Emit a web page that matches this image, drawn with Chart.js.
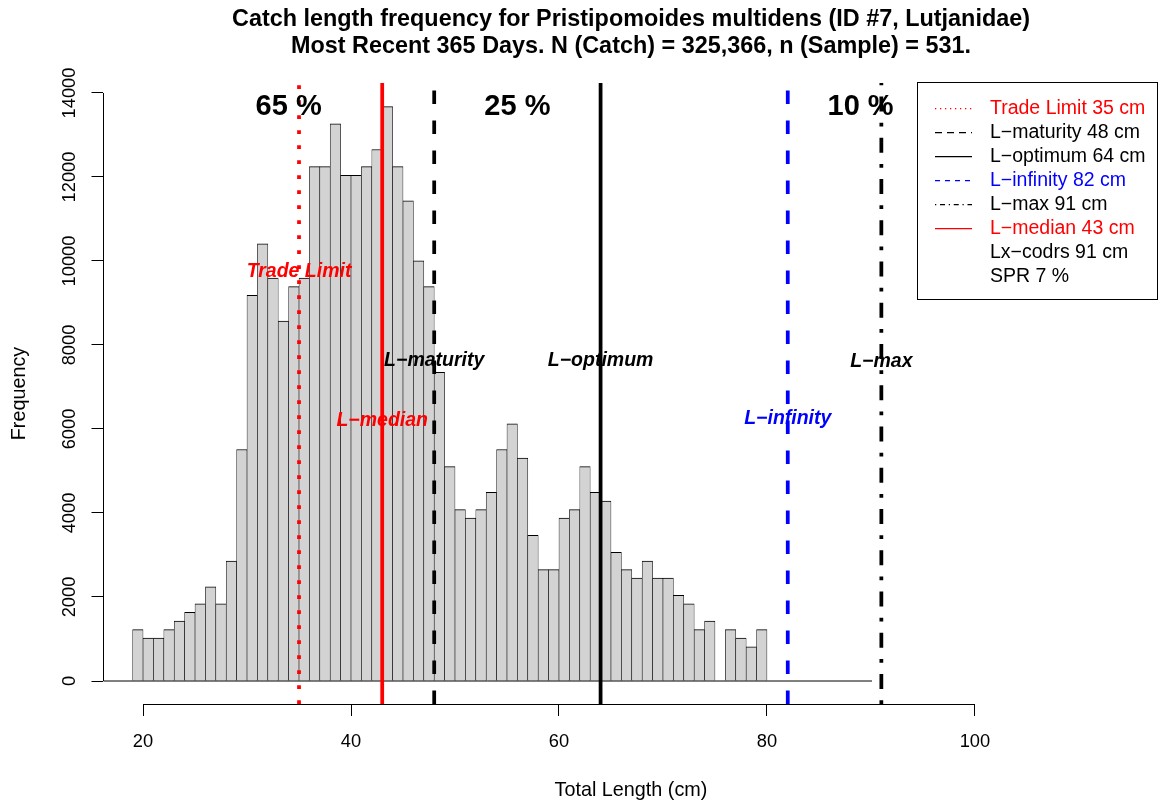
<!DOCTYPE html>
<html><head><meta charset="utf-8">
<script src="https://cdn.jsdelivr.net/npm/chart.js@4.4.1/dist/chart.umd.min.js"></script>
<style>html,body{margin:0;padding:0;background:#fff;}#wrap{width:1163px;height:805px;position:relative;}</style>
</head><body><div id="wrap"><canvas id="c" width="1163" height="805"></canvas></div>
<script>
// ---- data ----
const binStarts = [19,20,21,22,23,24,25,26,27,28,29,30,31,32,33,34,35,36,37,38,39,40,41,42,43,44,45,46,47,48,49,50,51,52,53,54,55,56,57,58,59,60,61,62,63,64,65,66,67,68,69,70,71,72,73,74,75,76,77,78,79];
const frequencies = [1225,1021,1021,1225,1429,1633,1837,2245,1837,2857,5511,9185,10409,9593,8572,9389,9593,12246,12246,13267,12042,12042,12246,12654,13675,12246,11430,10001,9389,7348,5103,4082,3878,4082,4490,5511,6123,5307,3470,2653,2653,3878,4082,5103,4490,4286,3062,2653,2449,2857,2449,2449,2041,1837,1225,1429,0,1225,1021,816,1225];
const refNames = ['Trade Limit','L\u2212maturity','L\u2212optimum','L\u2212infinity','L\u2212max','L\u2212median'];
const refValues = [35,48,64,82,91,43];
const refColors = ['#FF0000','#000000','#000000','#0000FF','#000000','#FF0000'];
const refDash = [[3.75,11.25],[13.5,16.5],[],[13.5,16.5],[3.75,11.25,15,11.25],[]];
const refLabelY = [9740,7630,7630,6240,7600,6210];
const pctLabels = ['65 %','25 %','10 %'];
const pctX = [34,56,89];
const pctY = [13675,13675,13675];
const legendTexts = ['Trade Limit 35 cm','L\u2212maturity 48 cm','L\u2212optimum 64 cm','L\u2212infinity 82 cm','L\u2212max 91 cm','L\u2212median 43 cm','Lx\u2212codrs 91 cm','SPR 7 %'];
const legendColors = ['#FF0000','#000000','#000000','#0000FF','#000000','#FF0000','#000000','#000000'];
const legendDash = [[1.25,3.75],[7,5],[],[5,5],[1.25,3.75,5,3.75],[],null,null];
const xTicks = [20,40,60,80,100];
const yTicks = [0,2000,4000,6000,8000,10000,12000,14000];
const baselineX = [16.2,90.1];
const titleLines = ['Catch length frequency for Pristipomoides multidens (ID #7, Lutjanidae)','Most Recent 365 Days. N (Catch) = 325,366, n (Sample) = 531.'];

const X_MIN = 16.15, X_MAX = 117.7, Y_MIN = -547.6, Y_MAX = 14237.6;
const FAM = "'Liberation Sans', Arial, Helvetica, sans-serif";

const datasets = [];
datasets.push({
  type: 'bar', label: 'Frequency', order: 5,
  data: binStarts.map((b, i) => ({x: b + 0.5, y: frequencies[i]})),
  backgroundColor: '#D3D3D3', borderColor: '#000000',
  borderWidth: {top: 1, left: 0.6, right: 0.6, bottom: 0}, borderSkipped: false,
  barPercentage: 1, categoryPercentage: 1
});
datasets.push({
  type: 'line', label: 'baseline', order: 4, clip: false,
  data: baselineX.map(x => ({x: x, y: 0})),
  borderColor: '#000', borderWidth: 1, pointRadius: 0
});
refValues.forEach((v, i) => {
  datasets.push({
    type: 'line', label: refNames[i], order: 1,
    data: [{x: v, y: Y_MIN}, {x: v, y: Y_MAX}],
    borderColor: refColors[i], borderWidth: 3.75, borderDash: refDash[i],
    borderCapStyle: 'butt', pointRadius: 0
  });
});

const annot = {
  id: 'annot',
  afterDatasetsDraw(chart) {
    const {ctx, chartArea: ca, scales: {x, y}} = chart;
    ctx.save();
    ctx.strokeStyle = '#000'; ctx.lineWidth = 1;
    ctx.beginPath();
    const by = Math.round(ca.bottom) + 0.5;
    ctx.moveTo(x.getPixelForValue(xTicks[0]), by);
    ctx.lineTo(x.getPixelForValue(xTicks[xTicks.length - 1]), by);
    const lx = Math.round(ca.left) + 0.5;
    ctx.moveTo(lx, y.getPixelForValue(yTicks[0]));
    ctx.lineTo(lx, y.getPixelForValue(yTicks[yTicks.length - 1]));
    ctx.stroke();
    ctx.textAlign = 'center'; ctx.textBaseline = 'middle';
    ctx.font = 'italic bold 19.5px ' + FAM;
    refNames.forEach((n, i) => {
      ctx.fillStyle = refColors[i];
      ctx.fillText(n, x.getPixelForValue(refValues[i]), y.getPixelForValue(refLabelY[i]));
    });
    ctx.font = 'bold 29px ' + FAM; ctx.fillStyle = '#000';
    pctLabels.forEach((t, i) => ctx.fillText(t, x.getPixelForValue(pctX[i]), y.getPixelForValue(pctY[i])));
    ctx.font = 'bold 23.4px ' + FAM;
    const cx = (ca.left + ca.right) / 2;
    ctx.fillText(titleLines[0], cx, 20);
    ctx.fillText(titleLines[1], cx, 47);
    const bx = 917.5, byy = 82.5, bw = 240, bh = 217;
    ctx.fillStyle = '#fff'; ctx.fillRect(bx, byy, bw, bh);
    ctx.strokeStyle = '#000'; ctx.lineWidth = 1; ctx.setLineDash([]);
    ctx.strokeRect(bx, byy, bw, bh);
    ctx.font = '19.5px ' + FAM; ctx.textAlign = 'left';
    legendTexts.forEach((t, i) => {
      const yy = 108.5 + i * 24;
      if (legendDash[i]) {
        ctx.strokeStyle = legendColors[i]; ctx.lineWidth = 1.25; ctx.setLineDash(legendDash[i]);
        ctx.beginPath(); ctx.moveTo(935, yy); ctx.lineTo(972, yy); ctx.stroke();
      }
      ctx.setLineDash([]);
      ctx.fillStyle = legendColors[i];
      ctx.fillText(t, 990, yy);
    });
    ctx.restore();
  }
};

new Chart(document.getElementById('c'), {
  data: {datasets},
  options: {
    responsive: false, animation: false, devicePixelRatio: 1,
    layout: {padding: {top: 83, right: 4, bottom: 0, left: 0}},
    plugins: {legend: {display: false}, tooltip: {enabled: false}, title: {display: false}},
    scales: {
      x: {
        type: 'linear', position: 'bottom', min: X_MIN, max: X_MAX, offset: false,
        afterBuildTicks: s => { s.ticks = xTicks.map(v => ({value: v})); },
        afterFit: s => { s.height = 101; },
        grid: {display: true, offset: false, drawOnChartArea: false, drawTicks: true, tickLength: 12, color: '#000', lineWidth: 1},
        border: {display: false},
        ticks: {color: '#000', font: {family: FAM, size: 18.3}, padding: 15, maxRotation: 0, autoSkip: false, callback: v => String(v)},
        title: {display: true, text: 'Total Length (cm)', color: '#000', font: {family: FAM, size: 19.8}, padding: {top: 0, bottom: 3}}
      },
      y: {
        type: 'linear', position: 'left', min: Y_MIN, max: Y_MAX,
        afterBuildTicks: s => { s.ticks = yTicks.map(v => ({value: v})); },
        afterFit: s => { s.width = 103; },
        grid: {display: true, drawOnChartArea: false, drawTicks: true, tickLength: 11.5, color: '#000', lineWidth: 1},
        border: {display: false},
        ticks: {color: '#000', font: {family: FAM, size: 18.3}, padding: -4, minRotation: 90, maxRotation: 90, crossAlign: 'center', autoSkip: false, callback: v => String(v)},
        title: {display: true, text: 'Frequency', color: '#000', font: {family: FAM, size: 19.8}, padding: {top: 8, bottom: 0}}
      }
    }
  },
  plugins: [annot]
});
</script></body></html>
